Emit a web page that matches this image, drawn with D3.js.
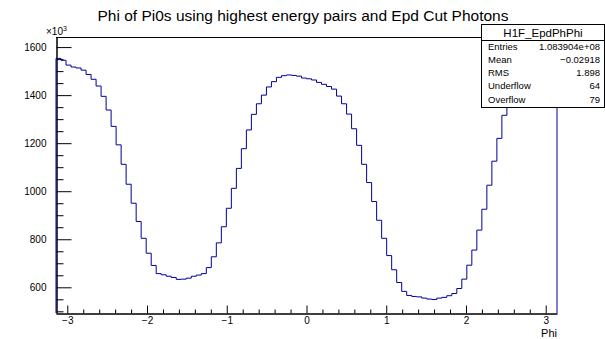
<!DOCTYPE html>
<html>
<head>
<meta charset="utf-8">
<script src="https://cdn.jsdelivr.net/npm/d3@7"></script>
<style>
  body { margin: 0; background: #fff; }
  svg { display: block; font-family: "Liberation Sans", Arial, Helvetica, sans-serif; }
</style>
</head>
<body>
<div id="chart"></div>
<script>
// Histogram contents (in units of 10^3 entries), 100 bins over [-pi, pi]
const binValues = [
  1553, 1545, 1525, 1517, 1513, 1504, 1486, 1466, 1438, 1395,
  1338, 1270, 1193, 1112, 1029, 950, 874, 804, 742, 691,
  657, 652, 646, 641, 633, 634, 638, 646, 651, 657,
  682, 727, 785, 852, 929, 1012, 1095, 1177, 1255, 1320,
  1364, 1400, 1434, 1456, 1474, 1481, 1484, 1482, 1479, 1471,
  1468, 1463, 1453, 1445, 1436, 1425, 1396, 1364, 1321, 1260,
  1191, 1112, 1036, 957, 879, 804, 732, 673, 620, 583,
  566, 562, 560, 555, 551, 549, 555, 558, 565, 574,
  595, 634, 692, 755, 838, 925, 1025, 1125, 1220, 1316,
  1390, 1445, 1485, 1510, 1522, 1530, 1537, 1543, 1548, 1552
]
const xMajorTicks = [-3, -2, -1, 0, 1, 2, 3]
const yMajorTicks = [600, 800, 1000, 1200, 1400, 1600]
const statsLabels = ["Entries", "Mean", "RMS", "Underflow", "Overflow"]
const statsValues = ["1.083904e+08", "\u22120.02918", "1.898", "64", "79"]
const histName = "H1F_EpdPhPhi"
const title = "Phi of Pi0s using highest energy pairs and Epd Cut Photons"

// Variables
const dimensions = {
  width: 605,
  height: 339,
  frame: { left: 56, right: 557, top: 37, bottom: 313 },
}
const phiMin = -Math.PI
const phiMax = Math.PI
const yDomain = [493, 1642]
const lineColor = "#000099"

const wrapper = d3.select("#chart")
  .append("svg")
  .attr("width", dimensions.width)
  .attr("height", dimensions.height)

// Scales
const xScale = d3.scaleLinear()
  .domain([phiMin, phiMax])
  .range([dimensions.frame.left, dimensions.frame.right])
const yScale = d3.scaleLinear()
  .domain(yDomain)
  .range([dimensions.frame.bottom, dimensions.frame.top])

// minor ticks
const xMinorTicks = d3.range(-32, 33, 2).map(d => d / 10)
  .filter(d => d >= phiMin && d <= phiMax && !xMajorTicks.includes(d))
const yMinorTicks = d3.range(yDomain[0], yDomain[1], 1)
  .filter(d => d % 50 === 0 && !yMajorTicks.includes(d))

// frame top line
wrapper.append("line")
  .attr("x1", dimensions.frame.left).attr("x2", dimensions.frame.right)
  .attr("y1", dimensions.frame.top + 0.5).attr("y2", dimensions.frame.top + 0.5)
  .attr("stroke", "#000")

// Axes
const xAxisG = wrapper.append("g")
  .attr("transform", `translate(0, ${dimensions.frame.bottom + 0.5})`)
xAxisG.append("g")
  .call(d3.axisBottom(xScale).tickValues(xMinorTicks).tickSizeInner(-4).tickSizeOuter(0).tickFormat(""))
xAxisG.append("g")
  .call(d3.axisBottom(xScale).tickValues(xMajorTicks).tickSizeInner(-8).tickSizeOuter(0)
    .tickPadding(3).tickFormat(d => d < 0 ? "\u2212" + Math.abs(d) : String(d)))

const yAxisG = wrapper.append("g")
  .attr("transform", `translate(${dimensions.frame.left + 0.5}, 0)`)
yAxisG.append("g")
  .call(d3.axisLeft(yScale).tickValues(yMinorTicks).tickSizeInner(-7).tickSizeOuter(0).tickFormat(""))
yAxisG.append("g")
  .call(d3.axisLeft(yScale).tickValues(yMajorTicks).tickSizeInner(-15).tickSizeOuter(0)
    .tickPadding(10).tickFormat(d => String(d)))

wrapper.selectAll(".tick line").attr("stroke", "#000")
wrapper.selectAll(".domain").attr("stroke", "#000")
wrapper.selectAll(".tick text")
  .attr("font-size", 10)
  .attr("font-family", "Liberation Sans, Arial, sans-serif")
  .attr("fill", "#000")

// Histogram outline
const binWidth = (phiMax - phiMin) / binValues.length
const outline = [[phiMin, yDomain[0]]]
binValues.forEach((v, i) => outline.push([phiMin + i * binWidth, v]))
outline.push([phiMax, binValues[binValues.length - 1]])
outline.push([phiMax, yDomain[0]])

wrapper.append("path")
  .datum(outline)
  .attr("fill", "none")
  .attr("stroke", lineColor)
  .attr("stroke-width", 1)
  .attr("d", d3.line()
    .x(d => xScale(d[0]))
    .y(d => yScale(d[1]))
    .curve(d3.curveStepAfter)
  )

// Title and labels
wrapper.append("text")
  .attr("x", 303)
  .attr("y", 21)
  .attr("text-anchor", "middle")
  .attr("font-size", 15.5)
  .text(title)

wrapper.append("text")
  .attr("x", dimensions.frame.right)
  .attr("y", 337)
  .attr("text-anchor", "end")
  .attr("font-size", 11)
  .text("Phi")

const exp = wrapper.append("text")
  .attr("x", 46)
  .attr("y", 35)
  .attr("font-size", 10)
exp.append("tspan").text("\u00d710")
exp.append("tspan").attr("dy", -4).attr("font-size", 7).text("3")

// Stats box
const box = { left: 481.5, right: 604.5, top: 24.5, bottom: 107.5, header: 40.5 }
const stats = wrapper.append("g")
stats.append("rect")
  .attr("x", box.left).attr("y", box.top)
  .attr("width", box.right - box.left).attr("height", box.bottom - box.top)
  .attr("fill", "#fff").attr("stroke", "#000")
stats.append("line")
  .attr("x1", box.left).attr("x2", box.right)
  .attr("y1", box.header).attr("y2", box.header)
  .attr("stroke", "#000")
stats.append("text")
  .attr("x", (box.left + box.right) / 2)
  .attr("y", 37)
  .attr("text-anchor", "middle")
  .attr("font-size", 11.5)
  .text(histName)

statsLabels.forEach((label, i) => {
  const y = 49.5 + i * 13.3
  stats.append("text")
    .attr("x", 488).attr("y", y)
    .attr("font-size", 9.5)
    .text(label)
  stats.append("text")
    .attr("x", 600).attr("y", y)
    .attr("text-anchor", "end")
    .attr("font-size", 9.5)
    .text(statsValues[i])
})
</script>
</body>
</html>
